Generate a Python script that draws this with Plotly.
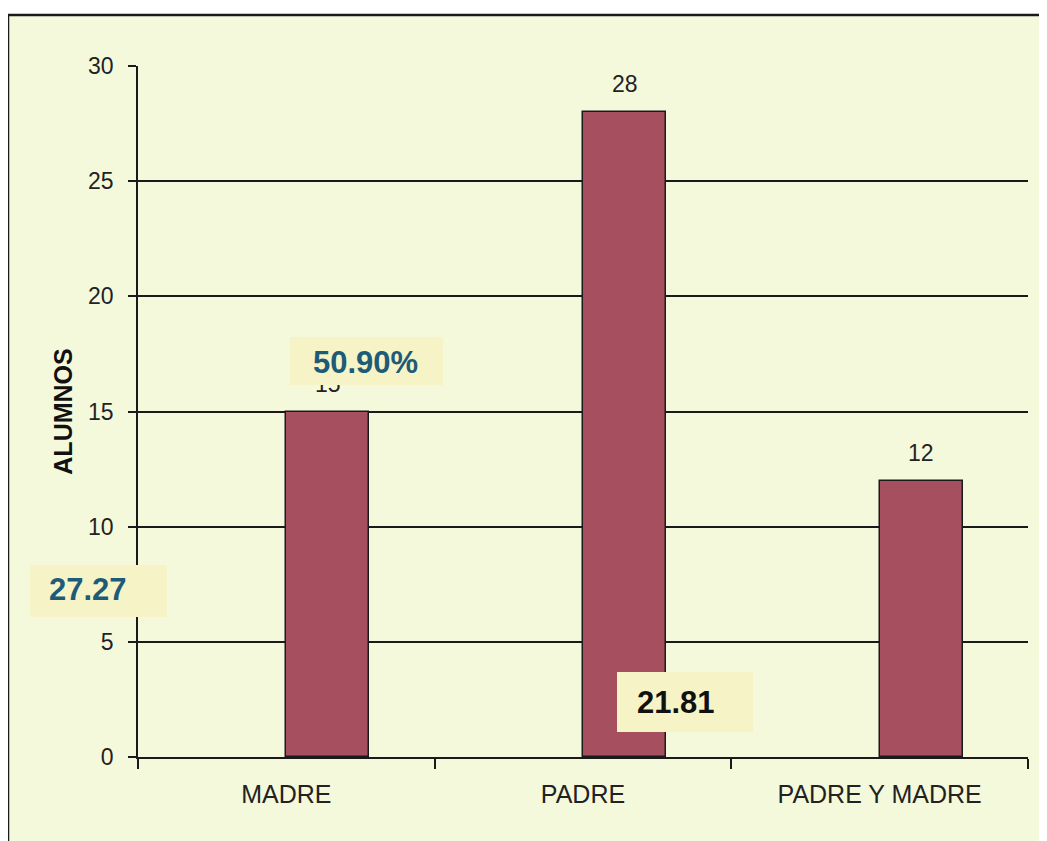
import plotly.graph_objects as go

# ---- data ----
categories = ["MADRE", "PADRE", "PADRE Y MADRE"]
alumnos = [15, 28, 12]
y_tick_vals = [0, 5, 10, 15, 20, 25, 30]
callout_texts = ["27.27", "50.90%", "21.81"]

# ---- layout geometry (page has an 8px body margin) ----
OFF = 8
W, H = 1047 - OFF, 841 - OFF
L, R, T, B = 138 - OFF, 19, 66 - OFF, 84
PW = W - L - R
PH = H - T - B


def px(x):
    """page pixel x -> paper fraction"""
    return (x - OFF - L) / PW


def py(y):
    """page pixel y -> paper fraction"""
    return (H - B - (y - OFF)) / PH


FONT = "Liberation Sans, Arial, sans-serif"
BG = "#f5f9dc"
BOX_BG = "#f6f4c6"
BAR_COLOR = "#a6505f"
LINE = "#1a1a1a"
TEAL = "#1d5b78"
BAR_W = 0.28

fig = go.Figure(
    go.Bar(
        x=categories,
        y=alumnos,
        offset=0,
        width=BAR_W,
        marker=dict(color=BAR_COLOR, line=dict(color=LINE, width=1.5)),
        hoverinfo="skip",
    )
)

annotations = []
# value labels above the bars
for i, v in enumerate(alumnos):
    annotations.append(dict(
        x=i + BAR_W / 2, y=v, xref="x", yref="y",
        text=str(v), showarrow=False, yanchor="middle", yshift=28,
        font=dict(family=FONT, size=23, color="#222222"),
    ))

# yellow callout boxes (drawn over the labels / axis)
boxes = [
    # (box cx, cy, w, h, text cx, cy, color)
    (98, 591, 137, 52, 88, 589, TEAL),
    (366, 361, 153, 48, 365, 362, TEAL),
    (685, 702, 136, 60, 676, 702, "#111111"),
]
for (bx, by, bw, bh, tx, ty, col), txt in zip(boxes, callout_texts):
    annotations.append(dict(
        x=px(bx), y=py(by), xref="paper", yref="paper",
        text=" ", showarrow=False, xanchor="center", yanchor="middle",
        width=bw, height=bh, bgcolor=BOX_BG, borderpad=0, borderwidth=0,
        font=dict(size=10),
    ))
    annotations.append(dict(
        x=px(tx), y=py(ty), xref="paper", yref="paper",
        text="<b>" + txt + "</b>", showarrow=False,
        xanchor="center", yanchor="middle",
        font=dict(family=FONT, size=31, color=col),
    ))

shapes = [
    dict(type="rect", xref="paper", yref="paper",
         x0=px(8), x1=px(1120), y0=py(900), y1=py(15),
         line=dict(color=LINE, width=2.5), fillcolor=BG, layer="below"),
]

fig.update_layout(
    width=W, height=H,
    margin=dict(l=L, r=R, t=T, b=B, autoexpand=False),
    paper_bgcolor="white",
    plot_bgcolor=BG,
    showlegend=False,
    font=dict(family=FONT, size=22, color="#222222"),
    annotations=annotations,
    shapes=shapes,
    bargap=0,
)

fig.update_xaxes(
    type="category", range=[-0.5, 2.5],
    showline=True, linecolor=LINE, linewidth=1.5,
    ticks="outside", tickson="boundaries", ticklen=10, tickcolor=LINE, tickwidth=1.5,
    showgrid=False, zeroline=False,
    tickfont=dict(family=FONT, size=25, color="#222222"),
    ticklabelstandoff=14,
)

fig.update_yaxes(
    range=[0, 30], tickvals=y_tick_vals,
    showline=True, linecolor=LINE, linewidth=1.5,
    ticks="outside", ticklen=8, tickcolor=LINE, tickwidth=1.5,
    showgrid=True, gridcolor=LINE, gridwidth=1.5, zeroline=False,
    tickfont=dict(family=FONT, size=23, color="#222222"),
    ticklabelstandoff=10,
    title=dict(text="<b>ALUMNOS</b>", font=dict(family=FONT, size=25, color="#111111"), standoff=8),
)

fig.write_html("out.html")
